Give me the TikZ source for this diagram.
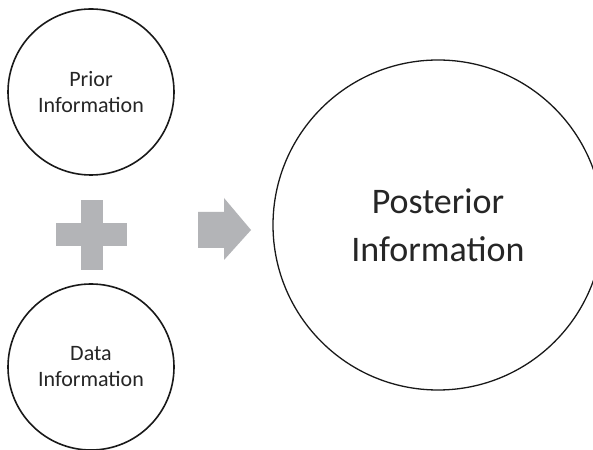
\documentclass[tikz,border=0pt]{standalone}
\usepackage{fontspec}
\setmainfont{Carlito}
\begin{document}
\begin{tikzpicture}[x=1pt,y=1pt,
  small/.style={circle,draw=black!90,line width=1.6pt,minimum size=166pt,inner sep=0pt,
    align=center,font=\fontsize{22}{26}\selectfont,text=black!85},
  big/.style={circle,draw=black!90,line width=1.3pt,minimum size=330pt,inner sep=0pt,
    align=center,font=\fontsize{36}{48}\selectfont,text=black!85},
  shapefill/.style={fill=symbolgray,draw=none}]
\definecolor{symbolgray}{HTML}{B3B4B7}
\useasboundingbox (0,0) rectangle (593,449);
\clip (0,0) rectangle (593,449);
\fill[white] (0,0) rectangle (593,449);

% input circles
\node[small] (prior) at (91,357) {Prior\\Information};
\node[small] (data) at (91,82) {Data\\Information};

% result circle
\node[big] (post) at (438,224) {Posterior\\Information};

% plus sign between the inputs
\coordinate (plus) at (91.5,214);
\fill[shapefill] ([shift={(-35.5,-11.5)}]plus) rectangle ([shift={(35.5,11.5)}]plus);
\fill[shapefill] ([shift={(-11,-35)}]plus) rectangle ([shift={(11,35)}]plus);

% block arrow towards the result
\coordinate (arr) at (198,219);
\fill[shapefill] (arr) ++(0,-18) -- ++(26,0) -- ++(0,-12) -- ++(27,30)
  -- ++(-27,32) -- ++(0,-14) -- ++(-26,0) -- cycle;
\end{tikzpicture}
\end{document}
